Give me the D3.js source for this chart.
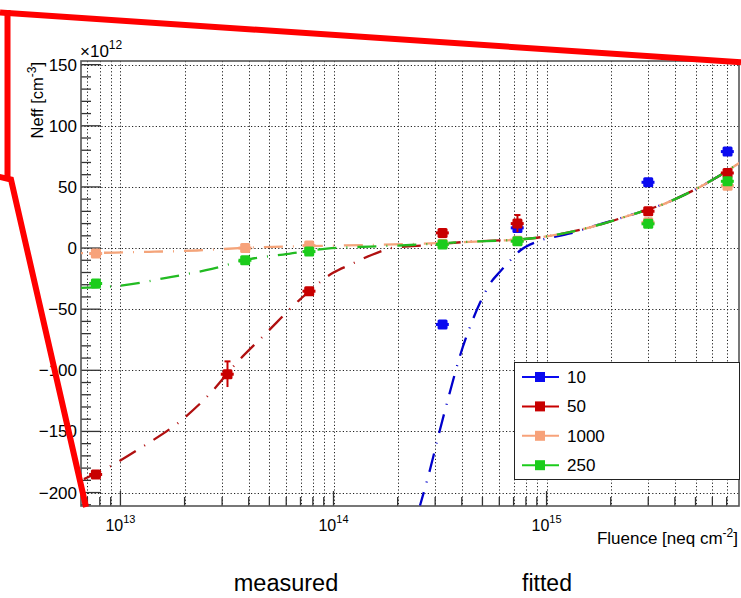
<!DOCTYPE html>
<html>
<head>
<meta charset="utf-8">
<script src="https://cdn.jsdelivr.net/npm/d3@7"></script>
<style>
	body { margin: 0; background: #fff; }
	text { font-family: "Liberation Sans", Arial, Helvetica, sans-serif; fill: #000; }
</style>
</head>
<body>
<div id="viz"></div>
<script>
// measured points, Neff in units of 1e12 cm^-3
const fluence10 = [3.25e14, 7.3e14, 3.0e15, 7.07e15];
const neff10 = [-62.5, 16.5, 53.8, 78.9];
const err10 = [2, 2, 2, 2];

const fluence50 = [7.67e12, 3.18e13, 7.69e13, 3.25e14, 7.3e14, 3.0e15, 7.07e15];
const neff50 = [-185.2, -103.2, -35.3, 12.4, 20.0, 30.1, 61.4];
const err50 = [3, 10.5, 3, 3, 7, 2, 3];

const fluence1000 = [7.67e12, 3.85e13, 7.69e13, 3.25e14, 7.3e14, 3.0e15, 7.07e15];
const neff1000 = [-4.5, 0.0, 2.0, 3.5, 6.0, 21.0, 51.0];
const err1000 = [2, 2, 2, 2, 2, 2, 2];

const fluence250 = [7.67e12, 3.85e13, 7.69e13, 3.25e14, 7.3e14, 3.0e15, 7.07e15];
const neff250 = [-29.0, -10.0, -2.9, 3.0, 5.6, 19.8, 54.6];
const err250 = [2, 2, 2, 2, 2, 2, 2];

const fluenceRelErr = 0.07;

// fitted curves: [fluence, Neff]
const fit10 = [[2.547e14, -210.6], [2.838e14, -181.1], [3.162e14, -148.4], [3.524e14, -117.3],
	[3.927e14, -87.9], [4.376e14, -64.2], [4.876e14, -44.6], [5.433e14, -29.0], [6.054e14, -19.2],
	[6.746e14, -10.2], [7.517e14, -2.0], [9.31e14, 6.1], [1.29e15, 11.9], [1.60e15, 17],
	[2.38e15, 26], [3.66e15, 37], [6.04e15, 56], [8.09e15, 70]];
const fit50 = [[6.74e12, -189], [8.73e12, -179.5], [1.276e13, -162.3], [1.90e13, -141.9],
	[2.69e13, -117.3], [3.38e13, -97], [4.85e13, -69.3], [6.97e13, -42], [9.95e13, -20.3],
	[1.20e14, -13.5], [1.60e14, -3.9], [1.90e14, 0.2], [2.84e14, 2.5], [4.06e14, 4.9],
	[8.37e14, 7.8], [1.60e15, 17], [2.38e15, 26], [3.66e15, 37], [6.04e15, 56], [8.09e15, 70]];
const fit1000 = [[6.53e12, -4.1], [9.43e12, -3.7], [1.37e13, -3.1], [2.29e13, -2.0],
	[4.05e13, 0.4], [6.97e13, 1.5], [1.48e14, 2.5], [4.06e14, 4.9], [8.37e14, 7.8],
	[1.60e15, 17], [2.38e15, 26], [3.66e15, 37], [6.04e15, 56], [8.09e15, 70]];
const fit250 = [[6.53e12, -32.5], [1.005e13, -30.7], [1.64e13, -24.4], [2.69e13, -17],
	[4.05e13, -9], [5.80e13, -5.3], [9.31e13, -0.4], [1.48e14, 1.2], [2.29e14, 2.5],
	[4.06e14, 4.9], [8.37e14, 7.8], [1.60e15, 17], [2.38e15, 26], [3.66e15, 37],
	[6.04e15, 56], [8.09e15, 70]];

const legendLabels = ['10', '50', '1000', '250'];
const yTicks = [150, 100, 50, 0, -50, -100, -150, -200];
const xLabelExps = [13, 14, 15];

const series = [
	{ name: '10', f: fluence10, n: neff10, e: err10, fit: fit10, mark: '#0a0af0', line: '#0000cc', phase: 5 },
	{ name: '50', f: fluence50, n: neff50, e: err50, fit: fit50, mark: '#c80000', line: '#b01010', phase: 0 },
	{ name: '1000', f: fluence1000, n: neff1000, e: err1000, fit: fit1000, mark: '#f7a27a', line: '#f4a47a', phase: 17 },
	{ name: '250', f: fluence250, n: neff250, e: err250, fit: fit250, mark: '#1ccc1c', line: '#22bb22', phase: 0 }
];

const W = 741, H = 598;
const frame = { left: 81, right: 739, top: 61, bottom: 506 };

const svg = d3.select('#viz').append('svg')
	.attr('width', W)
	.attr('height', H);

svg.append('rect').attr('width', W).attr('height', H).attr('fill', '#fff');

const x = d3.scaleLog()
	.domain([6.53e12, 8.0e15])
	.range([frame.left, frame.right]);

const y = d3.scaleLinear()
	.domain([-211, 153])
	.range([frame.bottom, frame.top]);

// grid
let xGridVals = [];
for (let e = 12; e <= 15; e++) {
	for (let m = 1; m <= 9; m++) {
		let v = m * Math.pow(10, e);
		if (v >= 6.6e12 && v <= 7.9e15) xGridVals.push(v);
	}
}

const grid = svg.append('g')
	.attr('stroke', '#222')
	.attr('stroke-width', 1)
	.attr('stroke-dasharray', '1.2,2.2');

grid.selectAll('.vg').data(xGridVals).join('line')
	.attr('x1', d => Math.round(x(d)) + 0.5)
	.attr('x2', d => Math.round(x(d)) + 0.5)
	.attr('y1', frame.top)
	.attr('y2', frame.bottom);

grid.selectAll('.hg').data(yTicks).join('line')
	.attr('x1', frame.left)
	.attr('x2', frame.right)
	.attr('y1', d => Math.round(y(d)) + 0.5)
	.attr('y2', d => Math.round(y(d)) + 0.5);

// ticks
const ticks = svg.append('g').attr('stroke', '#333').attr('stroke-width', 1.3);

let yMinor = d3.range(-210, 151, 10);
ticks.selectAll('.ym').data(yMinor).join('line')
	.attr('x1', frame.left)
	.attr('x2', d => frame.left + (d % 50 === 0 ? 20 : 10))
	.attr('y1', d => y(d))
	.attr('y2', d => y(d));

ticks.selectAll('.xm').data(xGridVals).join('line')
	.attr('x1', d => x(d))
	.attr('x2', d => x(d))
	.attr('y1', frame.bottom)
	.attr('y2', d => frame.bottom - (Math.abs(Math.log10(d) - Math.round(Math.log10(d))) < 1e-6 ? 15 : 9));

// frame
svg.append('rect')
	.attr('x', frame.left)
	.attr('y', frame.top)
	.attr('width', frame.right - frame.left)
	.attr('height', frame.bottom - frame.top)
	.attr('fill', 'none')
	.attr('stroke', '#555')
	.attr('stroke-width', 1.6);

// tick labels
svg.append('g').selectAll('text').data(yTicks).join('text')
	.attr('x', 77)
	.attr('y', d => y(d) + 6)
	.attr('text-anchor', 'end')
	.attr('font-size', 17)
	.text(d => d < 0 ? '\u2212' + Math.abs(d) : d);

const xl = svg.append('g').selectAll('text').data(xLabelExps).join('text')
	.attr('x', d => x(Math.pow(10, d)))
	.attr('y', 531)
	.attr('text-anchor', 'middle')
	.attr('font-size', 16);
xl.append('tspan').text('10');
xl.append('tspan').attr('font-size', 11).attr('dy', -8).text(d => d);

// axis titles
const xt = svg.append('text')
	.attr('x', 738)
	.attr('y', 544)
	.attr('text-anchor', 'end')
	.attr('font-size', 17);
xt.append('tspan').text('Fluence [neq cm');
xt.append('tspan').attr('font-size', 12).attr('dy', -7).text('-2');
xt.append('tspan').attr('dy', 7).text(']');

const yt = svg.append('text')
	.attr('transform', 'translate(43,62) rotate(-90)')
	.attr('text-anchor', 'end')
	.attr('font-size', 16.5);
yt.append('tspan').text('Neff [cm');
yt.append('tspan').attr('font-size', 12).attr('dy', -7).text('-3');
yt.append('tspan').attr('dy', 7).text(']');

const mult = svg.append('text')
	.attr('x', 80)
	.attr('y', 57)
	.attr('font-size', 17);
mult.append('tspan').text('\u00d710');
mult.append('tspan').attr('font-size', 12).attr('dy', -8).text('12');

// fitted curves
svg.append('clipPath').attr('id', 'clip')
	.append('rect')
	.attr('x', frame.left)
	.attr('y', frame.top)
	.attr('width', frame.right - frame.left)
	.attr('height', frame.bottom - frame.top);

let line = d3.line()
	.curve(d3.curveMonotoneX)
	.x(d => x(d[0]))
	.y(d => y(d[1]));

const curves = svg.append('g').attr('clip-path', 'url(#clip)');
for (let s of series) {
	curves.append('path')
		.datum(s.fit)
		.attr('fill', 'none')
		.attr('stroke', s.line)
		.attr('stroke-width', 2.3)
		.attr('stroke-dasharray', '19,10,1,10')
		.attr('stroke-dashoffset', s.phase)
		.attr('d', line);
}

// measured points with error bars
const pts = svg.append('g').attr('clip-path', 'url(#clip)');
for (let s of series) {
	let data = s.f.map((f, i) => ({ f, n: s.n[i], e: s.e[i] }));
	let g = pts.append('g');

	g.selectAll('.ex').data(data).join('line')
		.attr('x1', d => x(d.f * (1 - fluenceRelErr)))
		.attr('x2', d => x(d.f * (1 + fluenceRelErr)))
		.attr('y1', d => y(d.n))
		.attr('y2', d => y(d.n))
		.attr('stroke', s.mark)
		.attr('stroke-width', 3);

	g.selectAll('.ey').data(data).join('line')
		.attr('x1', d => x(d.f))
		.attr('x2', d => x(d.f))
		.attr('y1', d => y(d.n - d.e))
		.attr('y2', d => y(d.n + d.e))
		.attr('stroke', s.mark)
		.attr('stroke-width', 2);

	g.selectAll('.cap').data(data.filter(d => d.e > 5)).join('line')
		.attr('x1', d => x(d.f) - 3)
		.attr('x2', d => x(d.f) + 3)
		.attr('y1', d => y(d.n + d.e))
		.attr('y2', d => y(d.n + d.e))
		.attr('stroke', s.mark)
		.attr('stroke-width', 2);

	g.selectAll('rect').data(data).join('rect')
		.attr('x', d => x(d.f) - 5)
		.attr('y', d => y(d.n) - 5)
		.attr('width', 10)
		.attr('height', 10)
		.attr('rx', 1.5)
		.attr('fill', s.mark);
}

// legend
const legend = svg.append('g');
legend.append('rect')
	.attr('x', 514.5)
	.attr('y', 362.5)
	.attr('width', 225)
	.attr('height', 117)
	.attr('fill', '#fff')
	.attr('stroke', '#222')
	.attr('stroke-width', 1);

legendLabels.forEach((lab, i) => {
	let s = series.find(d => d.name === lab);
	let cy = 377 + i * 29.4;
	legend.append('line')
		.attr('x1', 522).attr('x2', 559)
		.attr('y1', cy).attr('y2', cy)
		.attr('stroke', s.mark)
		.attr('stroke-width', 2);
	legend.append('rect')
		.attr('x', 535).attr('y', cy - 5)
		.attr('width', 10).attr('height', 10)
		.attr('fill', s.mark);
	legend.append('text')
		.attr('x', 567)
		.attr('y', cy + 6)
		.attr('font-size', 17)
		.text(lab);
});

// captions under the plot
svg.append('text')
	.attr('x', 286).attr('y', 591)
	.attr('text-anchor', 'middle')
	.attr('font-size', 23.5)
	.text('measured');
svg.append('text')
	.attr('x', 547).attr('y', 591)
	.attr('text-anchor', 'middle')
	.attr('font-size', 23)
	.text('fitted');

// red outline drawn over the figure
const red = svg.append('g')
	.attr('fill', 'none')
	.attr('stroke', '#ff0000')
	.attr('stroke-width', 6)
	.attr('stroke-linejoin', 'miter');
red.append('path').attr('d', 'M0,12.5 L741,62.3');
red.append('path').attr('d', 'M7.5,10 L7.5,178');
red.append('path').attr('d', 'M-2,176.5 L11,179.5 L86,507');
</script>
</body>
</html>
